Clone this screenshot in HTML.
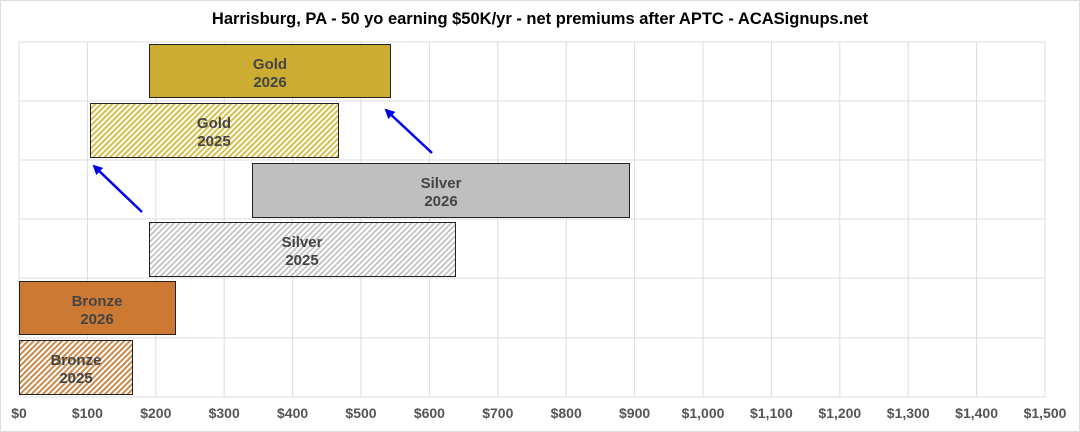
<!DOCTYPE html>
<html><head><meta charset="utf-8"><style>
html,body{margin:0;padding:0;background:#fff;}
svg{display:block;font-family:"Liberation Sans",Arial,sans-serif;}
</style></head><body>
<svg width="1080" height="432" viewBox="0 0 1080 432" xmlns="http://www.w3.org/2000/svg">
<defs>
<pattern id="hg" width="4" height="4" patternUnits="userSpaceOnUse" patternTransform="rotate(45)"><rect width="4" height="4" fill="#fff"/><rect width="2" height="4" fill="#d7be4a"/></pattern>
<pattern id="hs" width="4" height="4" patternUnits="userSpaceOnUse" patternTransform="rotate(45)"><rect width="4" height="4" fill="#fff"/><rect width="1.6" height="4" fill="#bdbdbd"/></pattern>
<pattern id="hb" width="4" height="4" patternUnits="userSpaceOnUse" patternTransform="rotate(45)"><rect width="4" height="4" fill="#fff"/><rect width="2" height="4" fill="#c98a4a"/></pattern>
<marker id="ar" markerWidth="10" markerHeight="10" refX="8" refY="5" orient="auto" markerUnits="userSpaceOnUse" viewBox="0 0 10 10"><path d="M0,0 L10,5 L0,10 z" fill="#0000ee"/></marker>
</defs>
<rect x="0.5" y="0.5" width="1079" height="431" fill="#fff" stroke="#ddd"/>
<text x="540" y="24" text-anchor="middle" font-size="16.5" font-weight="bold" fill="#000">Harrisburg, PA - 50 yo earning $50K/yr - net premiums after APTC - ACASignups.net</text>
<g stroke="#dcdcdc" stroke-width="1">
<line x1="19" y1="42" x2="1045" y2="42"/><line x1="19" y1="101" x2="1045" y2="101"/><line x1="19" y1="160" x2="1045" y2="160"/><line x1="19" y1="219" x2="1045" y2="219"/><line x1="19" y1="278" x2="1045" y2="278"/><line x1="19" y1="338" x2="1045" y2="338"/><line x1="19" y1="397" x2="1045" y2="397"/>
<line x1="19" y1="42" x2="19" y2="397"/><line x1="87.4" y1="42" x2="87.4" y2="397"/><line x1="155.8" y1="42" x2="155.8" y2="397"/><line x1="224.2" y1="42" x2="224.2" y2="397"/><line x1="292.6" y1="42" x2="292.6" y2="397"/><line x1="361" y1="42" x2="361" y2="397"/><line x1="429.4" y1="42" x2="429.4" y2="397"/><line x1="497.8" y1="42" x2="497.8" y2="397"/><line x1="566.2" y1="42" x2="566.2" y2="397"/><line x1="634.6" y1="42" x2="634.6" y2="397"/><line x1="703" y1="42" x2="703" y2="397"/><line x1="771.4" y1="42" x2="771.4" y2="397"/><line x1="839.8" y1="42" x2="839.8" y2="397"/><line x1="908.2" y1="42" x2="908.2" y2="397"/><line x1="976.6" y1="42" x2="976.6" y2="397"/><line x1="1045" y1="42" x2="1045" y2="397"/>
</g>
<g stroke="#222" stroke-width="1">
<rect x="149.5" y="44.5" width="241" height="53" fill="#ccad32"/>
<rect x="90.5" y="103.5" width="248" height="54" fill="url(#hg)"/>
<rect x="252.5" y="163.5" width="377" height="54" fill="#bfbfbf"/>
<rect x="149.5" y="222.5" width="306" height="54" fill="url(#hs)"/>
<rect x="19.5" y="281.5" width="156" height="53" fill="#cc7a33"/>
<rect x="19.5" y="340.5" width="113" height="54" fill="url(#hb)"/>
</g>
<g font-size="15" font-weight="bold" fill="#444" text-anchor="middle">
<text x="270" y="69">Gold</text><text x="270" y="87">2026</text>
<text x="214" y="128">Gold</text><text x="214" y="146">2025</text>
<text x="441" y="188">Silver</text><text x="441" y="206">2026</text>
<text x="302" y="247">Silver</text><text x="302" y="265">2025</text>
<text x="97" y="306">Bronze</text><text x="97" y="324">2026</text>
<text x="76" y="365">Bronze</text><text x="76" y="383">2025</text>
</g>
<g stroke="#0000ee" stroke-width="2.5">
<line x1="432" y1="153" x2="386" y2="110" marker-end="url(#ar)"/>
<line x1="142" y1="212" x2="94" y2="166" marker-end="url(#ar)"/>
</g>
<g font-size="14" font-weight="bold" fill="#555" text-anchor="middle">
<text x="19" y="418">$0</text><text x="87.4" y="418">$100</text><text x="155.8" y="418">$200</text><text x="224.2" y="418">$300</text><text x="292.6" y="418">$400</text><text x="361" y="418">$500</text><text x="429.4" y="418">$600</text><text x="497.8" y="418">$700</text><text x="566.2" y="418">$800</text><text x="634.6" y="418">$900</text><text x="703" y="418">$1,000</text><text x="771.4" y="418">$1,100</text><text x="839.8" y="418">$1,200</text><text x="908.2" y="418">$1,300</text><text x="976.6" y="418">$1,400</text><text x="1045" y="418">$1,500</text>
</g>
</svg>
</body></html>
